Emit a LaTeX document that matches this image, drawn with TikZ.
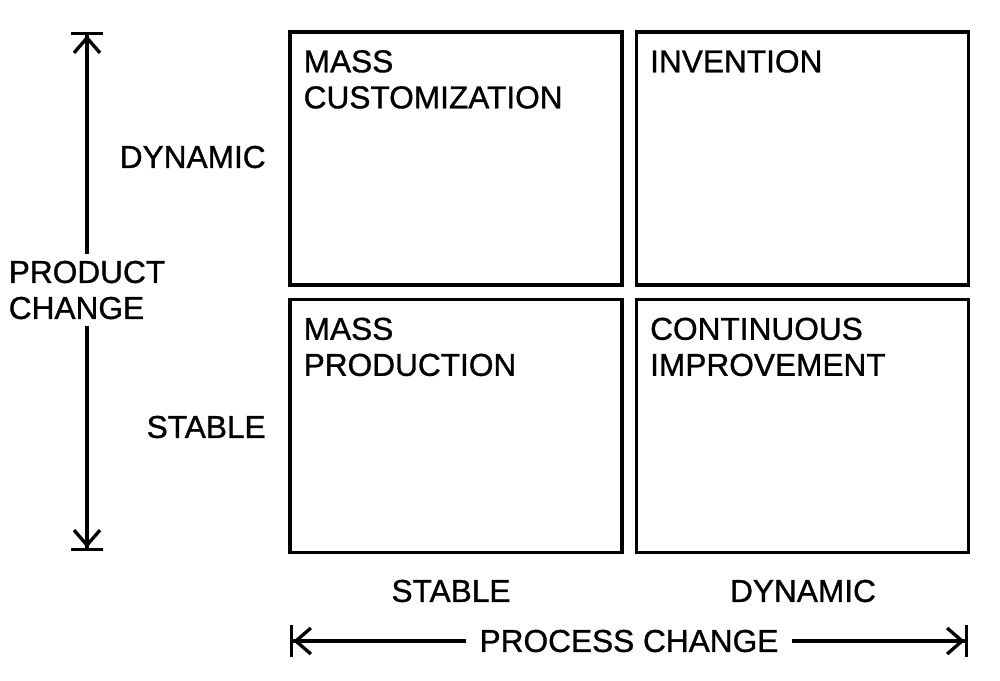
\documentclass[tikz,border=0pt]{standalone}
\usepackage{fontspec}
\setmainfont{Liberation Sans}[FakeBold=1.0]
\usetikzlibrary{arrows.meta,positioning}

\begin{document}
\begin{tikzpicture}[x=0.2mm,y=-0.2mm,
  quad/.style={draw=black,line width=1.9pt,minimum width=66.4mm,minimum height=50.6mm,inner sep=0pt},
  title/.style={anchor=north west,align=left,font=\fontsize{18}{20.5}\selectfont,inner sep=0pt},
  lab/.style={font=\fontsize{18}{20.5}\selectfont,inner sep=0pt},
  axis/.style={line width=1.9pt,{Bar[width=6.4mm,line width=1.9pt]Straight Barb[length=3mm,width=5.2mm,line width=1.9pt]}-{Straight Barb[length=3mm,width=5.2mm,line width=1.9pt]Bar[width=6.4mm,line width=1.9pt]}}]
\useasboundingbox (0,0) rectangle (1000,680);
% quadrants
\node[quad] (mc) at (456,158.5) {};
\node[quad] (inv) at (802.5,158.5) {};
\node[quad] (mp) at (456,426) {};
\node[quad] (ci) at (802.5,426) {};
\node[title] (mctxt) at ([xshift=3.0mm,yshift=-3.9mm]mc.north west) {MASS\\CUSTOMIZATION};
\node[title] (invtxt) at ([xshift=3.0mm,yshift=-3.9mm]inv.north west) {INVENTION};
\node[title] (mptxt) at ([xshift=3.0mm,yshift=-3.9mm]mp.north west) {MASS\\PRODUCTION};
\node[title] (citxt) at ([xshift=3.0mm,yshift=-3.9mm]ci.north west) {CONTINUOUS\\IMPROVEMENT};
% axes
\coordinate (ytop) at (87,32);
\coordinate (ybot) at (87,551);
\coordinate (xl) at (290,641);
\coordinate (xr) at (968,641);
\draw[axis] (ybot) -- (ytop);
\draw[axis] (xl) -- (xr);
\node[lab,fill=white,align=left,inner sep=4pt] (prod) at (87,290) {PRODUCT\\CHANGE};
\node[lab,fill=white,inner xsep=8pt,inner ysep=4pt] (proc) at (629,641) {PROCESS CHANGE};
% axis values
\node[lab,anchor=east] (ydyn) at (266,157) {DYNAMIC};
\node[lab,anchor=east] (ystab) at (266,427) {STABLE};
\node[lab] (xstab) at (451,591) {STABLE};
\node[lab] (xdyn) at (803,591) {DYNAMIC};
\end{tikzpicture}
\end{document}
